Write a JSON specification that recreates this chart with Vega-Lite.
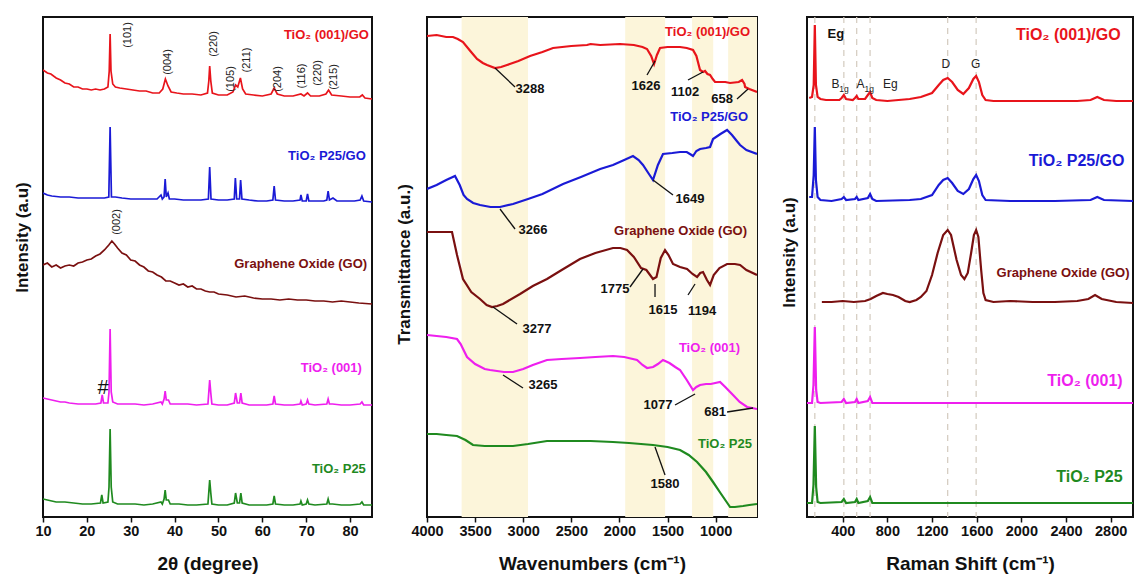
{
"$schema": "https://vega.github.io/schema/vega-lite/v6.json",
"background": "white",
"padding": {"left": 12, "top": 15, "right": 0, "bottom": 0},
"spacing": 21,
"config": {
 "view": {"stroke": "#111", "strokeWidth": 2},
 "font": "Liberation Sans",
 "axis": {"grid": false, "domain": false, "labelFont": "Liberation Sans", "labelFontSize": 14.5, "labelFontWeight": "bold", "labelColor": "#111", "titleFont": "Liberation Sans", "titleFontWeight": "bold", "titleColor": "#111", "tickColor": "#111", "tickWidth": 1.5, "tickSize": 5, "labelPadding": 2, "labelOverlap": false, "labelFlush": false},
 "axisX": {"titleFontSize": 19, "titlePadding": 17, "format": "d"},
 "axisY": {"ticks": false, "labels": false, "titleFontSize": 17}
},
"datasets": {
 "xrd": [
  {"s":"a","x":10,"y":447},{"s":"a","x":11,"y":444},{"s":"a","x":11.8,"y":443},{"s":"a","x":13,"y":439},{"s":"a","x":14,"y":437},{"s":"a","x":15,"y":434},{"s":"a","x":16,"y":433},{"s":"a","x":17,"y":430},{"s":"a","x":18,"y":430},{"s":"a","x":19,"y":428},{"s":"a","x":20,"y":428},{"s":"a","x":21,"y":427},{"s":"a","x":22,"y":428},{"s":"a","x":23,"y":427},{"s":"a","x":24,"y":428},{"s":"a","x":24.8,"y":430},{"s":"a","x":25.1,"y":446},{"s":"a","x":25.3,"y":483},{"s":"a","x":25.5,"y":446},{"s":"a","x":25.9,"y":433},{"s":"a","x":26.5,"y":430},{"s":"a","x":27.5,"y":429},{"s":"a","x":29,"y":428},{"s":"a","x":30.5,"y":427},{"s":"a","x":32,"y":426},{"s":"a","x":33.5,"y":426},{"s":"a","x":35,"y":424},{"s":"a","x":36.5,"y":424},{"s":"a","x":37.3,"y":428},{"s":"a","x":37.9,"y":438},{"s":"a","x":38.5,"y":431},{"s":"a","x":39.2,"y":425},{"s":"a","x":40.5,"y":424},{"s":"a","x":42,"y":423},{"s":"a","x":44,"y":423},{"s":"a","x":46,"y":422},{"s":"a","x":47.5,"y":424},{"s":"a","x":47.8,"y":436},{"s":"a","x":48.0,"y":451},{"s":"a","x":48.25,"y":436},{"s":"a","x":48.6,"y":424},{"s":"a","x":50,"y":422},{"s":"a","x":52,"y":422},{"s":"a","x":53.3,"y":425},{"s":"a","x":53.9,"y":432},{"s":"a","x":54.4,"y":430},{"s":"a","x":55.0,"y":439},{"s":"a","x":55.5,"y":428},{"s":"a","x":56.2,"y":423},{"s":"a","x":58,"y":422},{"s":"a","x":60,"y":421},{"s":"a","x":62,"y":423},{"s":"a","x":62.7,"y":429},{"s":"a","x":63.4,"y":423},{"s":"a","x":65,"y":421},{"s":"a","x":67,"y":421},{"s":"a","x":68.8,"y":423},{"s":"a","x":69.5,"y":421},{"s":"a","x":70.3,"y":424},{"s":"a","x":71,"y":421},{"s":"a","x":73,"y":421},{"s":"a","x":74.5,"y":423},{"s":"a","x":75.1,"y":427},{"s":"a","x":75.8,"y":422},{"s":"a","x":78,"y":421},{"s":"a","x":80,"y":420},{"s":"a","x":82.2,"y":420},{"s":"a","x":82.8,"y":422},{"s":"a","x":83.4,"y":419},{"s":"a","x":85,"y":418},
  {"s":"b","x":10,"y":324},{"s":"b","x":11,"y":322},{"s":"b","x":12,"y":321},{"s":"b","x":14,"y":320},{"s":"b","x":16,"y":320},{"s":"b","x":18,"y":319},{"s":"b","x":20,"y":319},{"s":"b","x":22,"y":319},{"s":"b","x":24,"y":319},{"s":"b","x":25.0,"y":320},{"s":"b","x":25.3,"y":390},{"s":"b","x":25.6,"y":320},{"s":"b","x":26.5,"y":320},{"s":"b","x":28,"y":319},{"s":"b","x":30,"y":318},{"s":"b","x":32,"y":318},{"s":"b","x":34,"y":318},{"s":"b","x":36,"y":318},{"s":"b","x":36.9,"y":322},{"s":"b","x":37.2,"y":318},{"s":"b","x":37.6,"y":320},{"s":"b","x":37.85,"y":338},{"s":"b","x":38.1,"y":320},{"s":"b","x":38.5,"y":324},{"s":"b","x":38.8,"y":318},{"s":"b","x":40,"y":318},{"s":"b","x":42,"y":317},{"s":"b","x":44,"y":317},{"s":"b","x":46,"y":317},{"s":"b","x":47.7,"y":318},{"s":"b","x":48.0,"y":350},{"s":"b","x":48.3,"y":318},{"s":"b","x":50,"y":317},{"s":"b","x":52,"y":317},{"s":"b","x":53.6,"y":318},{"s":"b","x":53.85,"y":339},{"s":"b","x":54.15,"y":318},{"s":"b","x":54.8,"y":318},{"s":"b","x":55.05,"y":337},{"s":"b","x":55.35,"y":318},{"s":"b","x":57,"y":317},{"s":"b","x":59,"y":316},{"s":"b","x":61,"y":316},{"s":"b","x":62.4,"y":317},{"s":"b","x":62.7,"y":331},{"s":"b","x":63.0,"y":317},{"s":"b","x":65,"y":316},{"s":"b","x":67,"y":316},{"s":"b","x":68.6,"y":317},{"s":"b","x":68.8,"y":322},{"s":"b","x":69.1,"y":316},{"s":"b","x":70.0,"y":316},{"s":"b","x":70.3,"y":323},{"s":"b","x":70.6,"y":316},{"s":"b","x":72,"y":316},{"s":"b","x":74,"y":316},{"s":"b","x":74.7,"y":317},{"s":"b","x":75.0,"y":326},{"s":"b","x":75.3,"y":317},{"s":"b","x":76.1,"y":319},{"s":"b","x":77,"y":316},{"s":"b","x":79,"y":316},{"s":"b","x":81,"y":316},{"s":"b","x":82.3,"y":317},{"s":"b","x":82.7,"y":321},{"s":"b","x":83.1,"y":316},{"s":"b","x":85,"y":315},
  {"s":"c","x":10,"y":252},{"s":"c","x":11,"y":254},{"s":"c","x":12,"y":250},{"s":"c","x":13,"y":252},{"s":"c","x":14,"y":249},{"s":"c","x":15,"y":251},{"s":"c","x":16,"y":252},{"s":"c","x":17,"y":251},{"s":"c","x":18,"y":254},{"s":"c","x":19,"y":255},{"s":"c","x":20,"y":257},{"s":"c","x":21,"y":258},{"s":"c","x":22,"y":261},{"s":"c","x":23,"y":263},{"s":"c","x":24,"y":267},{"s":"c","x":25,"y":272},{"s":"c","x":25.7,"y":276},{"s":"c","x":26.3,"y":273},{"s":"c","x":27,"y":269},{"s":"c","x":28,"y":264},{"s":"c","x":29,"y":262},{"s":"c","x":30,"y":257},{"s":"c","x":31,"y":256},{"s":"c","x":32,"y":252},{"s":"c","x":33,"y":250},{"s":"c","x":34,"y":246},{"s":"c","x":35,"y":245},{"s":"c","x":36,"y":242},{"s":"c","x":37,"y":240},{"s":"c","x":38,"y":236},{"s":"c","x":39,"y":236},{"s":"c","x":40,"y":234},{"s":"c","x":41,"y":232},{"s":"c","x":42,"y":233},{"s":"c","x":43,"y":230},{"s":"c","x":44,"y":231},{"s":"c","x":45,"y":228},{"s":"c","x":46,"y":228},{"s":"c","x":47,"y":226},{"s":"c","x":48,"y":225},{"s":"c","x":49,"y":225},{"s":"c","x":50,"y":223},{"s":"c","x":52,"y":222},{"s":"c","x":54,"y":220},{"s":"c","x":56,"y":221},{"s":"c","x":58,"y":219},{"s":"c","x":60,"y":218},{"s":"c","x":62,"y":218},{"s":"c","x":64,"y":217},{"s":"c","x":66,"y":218},{"s":"c","x":68,"y":217},{"s":"c","x":70,"y":217},{"s":"c","x":72,"y":216},{"s":"c","x":74,"y":216},{"s":"c","x":76,"y":215},{"s":"c","x":78,"y":216},{"s":"c","x":80,"y":215},{"s":"c","x":82,"y":214},{"s":"c","x":85,"y":213},
  {"s":"d","x":10,"y":119},{"s":"d","x":11,"y":118},{"s":"d","x":12,"y":117},{"s":"d","x":13,"y":116},{"s":"d","x":14,"y":115},{"s":"d","x":15,"y":115},{"s":"d","x":16,"y":114},{"s":"d","x":18,"y":113},{"s":"d","x":20,"y":113},{"s":"d","x":22,"y":113},{"s":"d","x":23.2,"y":114},{"s":"d","x":23.5,"y":122},{"s":"d","x":23.8,"y":114},{"s":"d","x":24.8,"y":114},{"s":"d","x":25.05,"y":125},{"s":"d","x":25.3,"y":188},{"s":"d","x":25.55,"y":125},{"s":"d","x":25.9,"y":115},{"s":"d","x":27,"y":113},{"s":"d","x":29,"y":113},{"s":"d","x":31,"y":113},{"s":"d","x":33,"y":112},{"s":"d","x":35,"y":113},{"s":"d","x":36.9,"y":115},{"s":"d","x":37.2,"y":113},{"s":"d","x":37.6,"y":118},{"s":"d","x":37.85,"y":126},{"s":"d","x":38.1,"y":117},{"s":"d","x":38.6,"y":117},{"s":"d","x":39,"y":113},{"s":"d","x":41,"y":113},{"s":"d","x":43,"y":113},{"s":"d","x":45,"y":112},{"s":"d","x":47.6,"y":113},{"s":"d","x":47.8,"y":125},{"s":"d","x":48.0,"y":137},{"s":"d","x":48.25,"y":124},{"s":"d","x":48.5,"y":113},{"s":"d","x":50,"y":112},{"s":"d","x":52,"y":112},{"s":"d","x":53.6,"y":114},{"s":"d","x":53.9,"y":124},{"s":"d","x":54.3,"y":114},{"s":"d","x":54.8,"y":114},{"s":"d","x":55.1,"y":124},{"s":"d","x":55.4,"y":114},{"s":"d","x":57,"y":112},{"s":"d","x":59,"y":112},{"s":"d","x":61,"y":112},{"s":"d","x":62.4,"y":113},{"s":"d","x":62.7,"y":121},{"s":"d","x":63.0,"y":113},{"s":"d","x":65,"y":112},{"s":"d","x":67,"y":112},{"s":"d","x":68.6,"y":113},{"s":"d","x":68.8,"y":116},{"s":"d","x":69.1,"y":112},{"s":"d","x":70.0,"y":113},{"s":"d","x":70.3,"y":117},{"s":"d","x":70.6,"y":113},{"s":"d","x":72,"y":112},{"s":"d","x":74.7,"y":113},{"s":"d","x":75.0,"y":118},{"s":"d","x":75.3,"y":113},{"s":"d","x":76,"y":113},{"s":"d","x":78,"y":112},{"s":"d","x":80,"y":112},{"s":"d","x":82.3,"y":113},{"s":"d","x":82.7,"y":115},{"s":"d","x":83.1,"y":112},{"s":"d","x":85,"y":112},
  {"s":"e","x":10,"y":18},{"s":"e","x":11,"y":17},{"s":"e","x":12,"y":16},{"s":"e","x":13,"y":15},{"s":"e","x":15,"y":15},{"s":"e","x":17,"y":14},{"s":"e","x":19,"y":13},{"s":"e","x":21,"y":13},{"s":"e","x":23.1,"y":14},{"s":"e","x":23.4,"y":22},{"s":"e","x":23.7,"y":14},{"s":"e","x":24.8,"y":15},{"s":"e","x":25.05,"y":30},{"s":"e","x":25.3,"y":88},{"s":"e","x":25.55,"y":30},{"s":"e","x":25.9,"y":15},{"s":"e","x":27,"y":13},{"s":"e","x":29,"y":13},{"s":"e","x":31,"y":13},{"s":"e","x":33,"y":12},{"s":"e","x":35,"y":13},{"s":"e","x":36.9,"y":15},{"s":"e","x":37.2,"y":13},{"s":"e","x":37.6,"y":18},{"s":"e","x":37.85,"y":27},{"s":"e","x":38.1,"y":17},{"s":"e","x":38.6,"y":17},{"s":"e","x":39,"y":13},{"s":"e","x":41,"y":13},{"s":"e","x":43,"y":12},{"s":"e","x":45,"y":12},{"s":"e","x":47.6,"y":13},{"s":"e","x":47.8,"y":25},{"s":"e","x":48.0,"y":37},{"s":"e","x":48.25,"y":24},{"s":"e","x":48.5,"y":13},{"s":"e","x":50,"y":12},{"s":"e","x":52,"y":12},{"s":"e","x":53.6,"y":14},{"s":"e","x":53.9,"y":24},{"s":"e","x":54.3,"y":14},{"s":"e","x":54.8,"y":14},{"s":"e","x":55.1,"y":24},{"s":"e","x":55.4,"y":14},{"s":"e","x":57,"y":12},{"s":"e","x":59,"y":12},{"s":"e","x":61,"y":12},{"s":"e","x":62.4,"y":13},{"s":"e","x":62.7,"y":21},{"s":"e","x":63.0,"y":13},{"s":"e","x":65,"y":12},{"s":"e","x":67,"y":12},{"s":"e","x":68.6,"y":13},{"s":"e","x":68.8,"y":16},{"s":"e","x":69.1,"y":12},{"s":"e","x":70.0,"y":13},{"s":"e","x":70.3,"y":17},{"s":"e","x":70.6,"y":13},{"s":"e","x":72,"y":12},{"s":"e","x":74.7,"y":13},{"s":"e","x":75.0,"y":18},{"s":"e","x":75.3,"y":13},{"s":"e","x":76,"y":13},{"s":"e","x":78,"y":12},{"s":"e","x":80,"y":12},{"s":"e","x":82.3,"y":13},{"s":"e","x":82.7,"y":15},{"s":"e","x":83.1,"y":12},{"s":"e","x":85,"y":12}
 ],
 "xrdLab": [
  {"s":"a","x":84.3,"y":482,"t":"TiO₂ (001)/GO"},
  {"s":"b","x":83.6,"y":361,"t":"TiO₂ P25/GO"},
  {"s":"c","x":83.9,"y":253,"t":"Graphene Oxide (GO)"},
  {"s":"d","x":82.7,"y":149,"t":"TiO₂ (001)"},
  {"s":"e","x":83.6,"y":48,"t":"TiO₂ P25"}
 ],
 "hkl": [
  {"x":29.4,"y":482,"t":"(101)"},{"x":38.6,"y":455,"t":"(004)"},{"x":48.9,"y":473,"t":"(220)"},{"x":52.8,"y":438,"t":"(105)"},{"x":56.6,"y":457,"t":"(211)"},{"x":63.5,"y":438,"t":"(204)"},{"x":69.0,"y":441,"t":"(116)"},{"x":72.7,"y":444,"t":"(220)"},{"x":76.3,"y":440,"t":"(215)"},{"x":26.9,"y":295,"t":"(002)"}
 ],
 "ftir": [
  {"s":"a","x":4000,"y":484},{"s":"a","x":3900,"y":485},{"s":"a","x":3800,"y":483},{"s":"a","x":3730,"y":483},{"s":"a","x":3680,"y":481},{"s":"a","x":3626,"y":478},{"s":"a","x":3550,"y":469},{"s":"a","x":3480,"y":461},{"s":"a","x":3420,"y":457},{"s":"a","x":3376,"y":455},{"s":"a","x":3293,"y":452},{"s":"a","x":3230,"y":453},{"s":"a","x":3168,"y":455},{"s":"a","x":3050,"y":459},{"s":"a","x":2929,"y":464},{"s":"a","x":2800,"y":468},{"s":"a","x":2690,"y":472},{"s":"a","x":2500,"y":474},{"s":"a","x":2337,"y":475},{"s":"a","x":2300,"y":476},{"s":"a","x":2200,"y":475},{"s":"a","x":1994,"y":476},{"s":"a","x":1850,"y":475},{"s":"a","x":1760,"y":473},{"s":"a","x":1713,"y":471},{"s":"a","x":1670,"y":464},{"s":"a","x":1640,"y":456},{"s":"a","x":1610,"y":465},{"s":"a","x":1578,"y":472},{"s":"a","x":1500,"y":473},{"s":"a","x":1370,"y":473},{"s":"a","x":1300,"y":472},{"s":"a","x":1235,"y":470},{"s":"a","x":1200,"y":464},{"s":"a","x":1162,"y":450},{"s":"a","x":1130,"y":448},{"s":"a","x":1110,"y":449},{"s":"a","x":1085,"y":446},{"s":"a","x":1058,"y":445},{"s":"a","x":1030,"y":441},{"s":"a","x":1006,"y":438},{"s":"a","x":950,"y":438},{"s":"a","x":900,"y":438},{"s":"a","x":850,"y":437},{"s":"a","x":760,"y":438},{"s":"a","x":725,"y":440},{"s":"a","x":700,"y":436},{"s":"a","x":694,"y":433},{"s":"a","x":650,"y":431},{"s":"a","x":570,"y":428},
  {"s":"b","x":4000,"y":331},{"s":"b","x":3900,"y":335},{"s":"b","x":3800,"y":340},{"s":"b","x":3709,"y":344},{"s":"b","x":3660,"y":335},{"s":"b","x":3620,"y":325},{"s":"b","x":3584,"y":321},{"s":"b","x":3520,"y":317},{"s":"b","x":3449,"y":315},{"s":"b","x":3340,"y":313},{"s":"b","x":3241,"y":313},{"s":"b","x":3106,"y":316},{"s":"b","x":2950,"y":321},{"s":"b","x":2800,"y":326},{"s":"b","x":2586,"y":336},{"s":"b","x":2400,"y":343},{"s":"b","x":2200,"y":351},{"s":"b","x":2067,"y":355},{"s":"b","x":1950,"y":360},{"s":"b","x":1859,"y":364},{"s":"b","x":1800,"y":360},{"s":"b","x":1755,"y":355},{"s":"b","x":1700,"y":347},{"s":"b","x":1651,"y":340},{"s":"b","x":1600,"y":355},{"s":"b","x":1547,"y":366},{"s":"b","x":1450,"y":367},{"s":"b","x":1370,"y":368},{"s":"b","x":1300,"y":368},{"s":"b","x":1250,"y":365},{"s":"b","x":1235,"y":364},{"s":"b","x":1200,"y":369},{"s":"b","x":1162,"y":371},{"s":"b","x":1100,"y":372},{"s":"b","x":1058,"y":373},{"s":"b","x":1027,"y":381},{"s":"b","x":950,"y":386},{"s":"b","x":881,"y":390},{"s":"b","x":830,"y":385},{"s":"b","x":780,"y":379},{"s":"b","x":746,"y":375},{"s":"b","x":680,"y":370},{"s":"b","x":570,"y":366},
  {"s":"c","x":4000,"y":288},{"s":"c","x":3900,"y":288},{"s":"c","x":3800,"y":288},{"s":"c","x":3740,"y":288},{"s":"c","x":3688,"y":265},{"s":"c","x":3626,"y":241},{"s":"c","x":3540,"y":228},{"s":"c","x":3449,"y":221},{"s":"c","x":3380,"y":215},{"s":"c","x":3324,"y":213},{"s":"c","x":3270,"y":214},{"s":"c","x":3210,"y":216},{"s":"c","x":3033,"y":226},{"s":"c","x":2900,"y":234},{"s":"c","x":2753,"y":241},{"s":"c","x":2600,"y":250},{"s":"c","x":2410,"y":261},{"s":"c","x":2250,"y":267},{"s":"c","x":2067,"y":272},{"s":"c","x":1990,"y":272},{"s":"c","x":1921,"y":270},{"s":"c","x":1850,"y":263},{"s":"c","x":1775,"y":252},{"s":"c","x":1720,"y":250},{"s":"c","x":1651,"y":241},{"s":"c","x":1615,"y":243},{"s":"c","x":1570,"y":262},{"s":"c","x":1526,"y":270},{"s":"c","x":1490,"y":265},{"s":"c","x":1443,"y":256},{"s":"c","x":1370,"y":253},{"s":"c","x":1297,"y":251},{"s":"c","x":1240,"y":246},{"s":"c","x":1193,"y":243},{"s":"c","x":1160,"y":247},{"s":"c","x":1131,"y":248},{"s":"c","x":1090,"y":240},{"s":"c","x":1058,"y":235},{"s":"c","x":1020,"y":245},{"s":"c","x":960,"y":252},{"s":"c","x":881,"y":256},{"s":"c","x":800,"y":256},{"s":"c","x":746,"y":255},{"s":"c","x":680,"y":250},{"s":"c","x":570,"y":245},
  {"s":"d","x":4000,"y":185},{"s":"d","x":3900,"y":184},{"s":"d","x":3800,"y":183},{"s":"d","x":3688,"y":181},{"s":"d","x":3650,"y":176},{"s":"d","x":3584,"y":163},{"s":"d","x":3500,"y":156},{"s":"d","x":3400,"y":151},{"s":"d","x":3345,"y":150},{"s":"d","x":3200,"y":148},{"s":"d","x":3106,"y":148},{"s":"d","x":3000,"y":151},{"s":"d","x":2900,"y":155},{"s":"d","x":2753,"y":160},{"s":"d","x":2600,"y":161},{"s":"d","x":2410,"y":162},{"s":"d","x":2250,"y":163},{"s":"d","x":2067,"y":164},{"s":"d","x":1950,"y":163},{"s":"d","x":1817,"y":160},{"s":"d","x":1760,"y":155},{"s":"d","x":1713,"y":152},{"s":"d","x":1650,"y":153},{"s":"d","x":1600,"y":156},{"s":"d","x":1547,"y":160},{"s":"d","x":1480,"y":157},{"s":"d","x":1420,"y":153},{"s":"d","x":1370,"y":150},{"s":"d","x":1300,"y":140},{"s":"d","x":1235,"y":130},{"s":"d","x":1200,"y":133},{"s":"d","x":1162,"y":135},{"s":"d","x":1100,"y":136},{"s":"d","x":1050,"y":136},{"s":"d","x":954,"y":138},{"s":"d","x":900,"y":133},{"s":"d","x":819,"y":125},{"s":"d","x":750,"y":118},{"s":"d","x":673,"y":113},{"s":"d","x":620,"y":112},{"s":"d","x":570,"y":111},
  {"s":"e","x":4000,"y":86},{"s":"e","x":3900,"y":86},{"s":"e","x":3800,"y":85},{"s":"e","x":3688,"y":84},{"s":"e","x":3600,"y":80},{"s":"e","x":3522,"y":75},{"s":"e","x":3400,"y":74},{"s":"e","x":3300,"y":74},{"s":"e","x":3106,"y":74},{"s":"e","x":2950,"y":76},{"s":"e","x":2753,"y":79},{"s":"e","x":2500,"y":79},{"s":"e","x":2300,"y":79},{"s":"e","x":2067,"y":78},{"s":"e","x":1900,"y":77},{"s":"e","x":1651,"y":75},{"s":"e","x":1500,"y":73},{"s":"e","x":1370,"y":70},{"s":"e","x":1280,"y":65},{"s":"e","x":1193,"y":58},{"s":"e","x":1100,"y":48},{"s":"e","x":1027,"y":38},{"s":"e","x":950,"y":27},{"s":"e","x":850,"y":13},{"s":"e","x":800,"y":13},{"s":"e","x":715,"y":14},{"s":"e","x":650,"y":15},{"s":"e","x":570,"y":16}
 ],
 "ftirLab": [
  {"s":"a","x":642,"y":488,"t":"TiO₂ (001)/GO"},
  {"s":"b","x":663,"y":403,"t":"TiO₂ P25/GO"},
  {"s":"c","x":674,"y":289,"t":"Graphene Oxide (GO)"},
  {"s":"d","x":746,"y":172,"t":"TiO₂ (001)"},
  {"s":"e","x":622,"y":76,"t":"TiO₂ P25"}
 ],
 "bands": [{"a":3640,"b":2950},{"a":1940,"b":1525},{"a":1245,"b":1025},{"a":870,"b":570}],
 "annLines": [
  {"x":3293,"y":452,"x2":3085,"y2":433},{"x":1713,"y":445,"x2":1630,"y2":459},{"x":1287,"y":440,"x2":1131,"y2":448},{"x":778,"y":421,"x2":663,"y2":431},
  {"x":3241,"y":311,"x2":3085,"y2":291},{"x":1651,"y":340,"x2":1443,"y2":325},
  {"x":3314,"y":213,"x2":3064,"y2":196},{"x":1890,"y":233,"x2":1755,"y2":251},{"x":1630,"y":236,"x2":1630,"y2":223},{"x":1287,"y":225,"x2":1214,"y2":236},
  {"x":3210,"y":145,"x2":3002,"y2":132},{"x":1422,"y":115,"x2":1214,"y2":126},{"x":881,"y":108,"x2":611,"y2":112},
  {"x":1630,"y":73,"x2":1526,"y2":45}
 ],
 "annText": [
  {"x":2929,"y":431,"t":"3288"},{"x":1723,"y":434,"t":"1626"},{"x":1318,"y":428,"t":"1102"},{"x":933,"y":421,"t":"658"},
  {"x":2898,"y":290,"t":"3266"},{"x":1266,"y":321,"t":"1649"},
  {"x":2857,"y":191,"t":"3277"},{"x":2046,"y":231,"t":"1775"},{"x":1547,"y":210,"t":"1615"},{"x":1141,"y":209,"t":"1194"},
  {"x":2794,"y":135,"t":"3265"},{"x":1599,"y":115,"t":"1077"},{"x":1006,"y":108,"t":"681"},
  {"x":1526,"y":36,"t":"1580"}
 ],
 "raman": [
  {"s":"a","x":100,"y":417},{"s":"a","x":125,"y":418},{"s":"a","x":140,"y":430},{"s":"a","x":150,"y":490},{"s":"a","x":160,"y":430},{"s":"a","x":175,"y":418},{"s":"a","x":200,"y":416},{"s":"a","x":250,"y":415},{"s":"a","x":300,"y":415},{"s":"a","x":370,"y":415},{"s":"a","x":390,"y":417},{"s":"a","x":410,"y":420},{"s":"a","x":430,"y":416},{"s":"a","x":490,"y":415},{"s":"a","x":510,"y":417},{"s":"a","x":525,"y":419},{"s":"a","x":540,"y":416},{"s":"a","x":600,"y":416},{"s":"a","x":625,"y":420},{"s":"a","x":645,"y":423},{"s":"a","x":665,"y":417},{"s":"a","x":700,"y":415},{"s":"a","x":800,"y":414},{"s":"a","x":900,"y":415},{"s":"a","x":1000,"y":416},{"s":"a","x":1100,"y":418},{"s":"a","x":1200,"y":422},{"s":"a","x":1260,"y":430},{"s":"a","x":1300,"y":435},{"s":"a","x":1340,"y":437},{"s":"a","x":1380,"y":433},{"s":"a","x":1430,"y":425},{"s":"a","x":1480,"y":421},{"s":"a","x":1530,"y":427},{"s":"a","x":1570,"y":436},{"s":"a","x":1595,"y":439},{"s":"a","x":1620,"y":433},{"s":"a","x":1650,"y":420},{"s":"a","x":1680,"y":415},{"s":"a","x":1750,"y":414},{"s":"a","x":1900,"y":414},{"s":"a","x":2100,"y":414},{"s":"a","x":2300,"y":414},{"s":"a","x":2500,"y":414},{"s":"a","x":2620,"y":415},{"s":"a","x":2680,"y":418},{"s":"a","x":2740,"y":415},{"s":"a","x":2850,"y":414},{"s":"a","x":3000,"y":414},
  {"s":"b","x":100,"y":318},{"s":"b","x":125,"y":318},{"s":"b","x":140,"y":340},{"s":"b","x":150,"y":388},{"s":"b","x":160,"y":335},{"s":"b","x":175,"y":318},{"s":"b","x":200,"y":315},{"s":"b","x":300,"y":314},{"s":"b","x":390,"y":316},{"s":"b","x":410,"y":318},{"s":"b","x":430,"y":315},{"s":"b","x":510,"y":316},{"s":"b","x":525,"y":318},{"s":"b","x":540,"y":315},{"s":"b","x":625,"y":317},{"s":"b","x":645,"y":321},{"s":"b","x":665,"y":316},{"s":"b","x":700,"y":314},{"s":"b","x":1000,"y":315},{"s":"b","x":1100,"y":316},{"s":"b","x":1200,"y":320},{"s":"b","x":1260,"y":330},{"s":"b","x":1300,"y":335},{"s":"b","x":1340,"y":337},{"s":"b","x":1380,"y":332},{"s":"b","x":1430,"y":324},{"s":"b","x":1480,"y":321},{"s":"b","x":1530,"y":326},{"s":"b","x":1570,"y":336},{"s":"b","x":1595,"y":340},{"s":"b","x":1620,"y":334},{"s":"b","x":1650,"y":320},{"s":"b","x":1680,"y":315},{"s":"b","x":1900,"y":314},{"s":"b","x":2300,"y":314},{"s":"b","x":2620,"y":315},{"s":"b","x":2680,"y":318},{"s":"b","x":2740,"y":315},{"s":"b","x":3000,"y":314},
  {"s":"c","x":213,"y":213},{"s":"c","x":300,"y":213},{"s":"c","x":400,"y":214},{"s":"c","x":500,"y":213},{"s":"c","x":600,"y":214},{"s":"c","x":650,"y":216},{"s":"c","x":700,"y":219},{"s":"c","x":760,"y":222},{"s":"c","x":800,"y":221},{"s":"c","x":850,"y":220},{"s":"c","x":900,"y":218},{"s":"c","x":960,"y":214},{"s":"c","x":1000,"y":213},{"s":"c","x":1060,"y":215},{"s":"c","x":1100,"y":218},{"s":"c","x":1150,"y":224},{"s":"c","x":1200,"y":240},{"s":"c","x":1250,"y":262},{"s":"c","x":1300,"y":280},{"s":"c","x":1340,"y":285},{"s":"c","x":1370,"y":280},{"s":"c","x":1420,"y":255},{"s":"c","x":1460,"y":240},{"s":"c","x":1490,"y":236},{"s":"c","x":1520,"y":242},{"s":"c","x":1550,"y":262},{"s":"c","x":1575,"y":280},{"s":"c","x":1595,"y":285},{"s":"c","x":1615,"y":278},{"s":"c","x":1640,"y":245},{"s":"c","x":1660,"y":222},{"s":"c","x":1680,"y":215},{"s":"c","x":1750,"y":213},{"s":"c","x":1900,"y":214},{"s":"c","x":2100,"y":213},{"s":"c","x":2300,"y":213},{"s":"c","x":2500,"y":214},{"s":"c","x":2600,"y":216},{"s":"c","x":2660,"y":220},{"s":"c","x":2720,"y":216},{"s":"c","x":2850,"y":213},{"s":"c","x":3000,"y":212},
  {"s":"d","x":80,"y":112},{"s":"d","x":125,"y":112},{"s":"d","x":138,"y":130},{"s":"d","x":150,"y":188},{"s":"d","x":162,"y":125},{"s":"d","x":175,"y":113},{"s":"d","x":200,"y":112},{"s":"d","x":390,"y":113},{"s":"d","x":410,"y":116},{"s":"d","x":430,"y":112},{"s":"d","x":510,"y":113},{"s":"d","x":525,"y":116},{"s":"d","x":540,"y":112},{"s":"d","x":625,"y":114},{"s":"d","x":645,"y":118},{"s":"d","x":665,"y":112},{"s":"d","x":700,"y":112},{"s":"d","x":3000,"y":112},
  {"s":"e","x":80,"y":12},{"s":"e","x":125,"y":12},{"s":"e","x":138,"y":30},{"s":"e","x":150,"y":89},{"s":"e","x":162,"y":28},{"s":"e","x":175,"y":13},{"s":"e","x":200,"y":12},{"s":"e","x":390,"y":13},{"s":"e","x":410,"y":16},{"s":"e","x":430,"y":12},{"s":"e","x":510,"y":13},{"s":"e","x":525,"y":16},{"s":"e","x":540,"y":12},{"s":"e","x":625,"y":14},{"s":"e","x":645,"y":18},{"s":"e","x":665,"y":12},{"s":"e","x":700,"y":12},{"s":"e","x":3000,"y":12}
 ],
 "ramanLab": [
  {"s":"a","x":2889,"y":480,"t":"TiO₂ (001)/GO"},
  {"s":"b","x":2924,"y":354,"t":"TiO₂ P25/GO"},
  {"s":"d","x":2907,"y":134,"t":"TiO₂ (001)"},
  {"s":"e","x":2907,"y":38,"t":"TiO₂ P25"}
 ],
 "modes": [{"x":150},{"x":410},{"x":525},{"x":645},{"x":1340},{"x":1595}]
},
"hconcat": [
 {
  "width": 329, "height": 500,
  "layer": [
   {"data": {"name": "xrd"}, "mark": {"type": "line", "strokeWidth": 1.7, "clip": true},
    "encoding": {
     "x": {"field": "x", "type": "quantitative", "scale": {"domain": [10, 85], "nice": false, "zero": false}, "axis": {"title": "2θ (degree)", "values": [10,20,30,40,50,60,70,80]}},
     "y": {"field": "y", "type": "quantitative", "scale": {"domain": [0, 500], "nice": false, "zero": false}, "axis": {"title": "Intensity (a.u)", "titleY": 220, "titlePadding": 12}},
     "color": {"field": "s", "type": "nominal", "scale": {"domain": ["a","b","c","d","e"], "range": ["#e8141b","#1a1ad6","#7a1010","#ee1fee","#1f8a1f"]}, "legend": null}
    }},
   {"data": {"name": "xrdLab"}, "mark": {"type": "text", "align": "right", "baseline": "middle", "fontSize": 13, "fontWeight": "bold"},
    "encoding": {"x": {"field": "x", "type": "quantitative"}, "y": {"field": "y", "type": "quantitative"}, "text": {"field": "t"}, "color": {"field": "s", "type": "nominal", "legend": null}}},
   {"data": {"name": "hkl"}, "mark": {"type": "text", "angle": 270, "align": "center", "baseline": "middle", "fontSize": 11, "color": "#222"},
    "encoding": {"x": {"field": "x", "type": "quantitative"}, "y": {"field": "y", "type": "quantitative"}, "text": {"field": "t"}}},
   {"data": {"values": [{"x": 23.7, "y": 129, "t": "#"}]}, "mark": {"type": "text", "align": "center", "baseline": "middle", "fontSize": 20, "color": "#111"},
    "encoding": {"x": {"field": "x", "type": "quantitative"}, "y": {"field": "y", "type": "quantitative"}, "text": {"field": "t"}}}
  ]
 },
 {
  "width": 330, "height": 500,
  "layer": [
   {"data": {"name": "bands"}, "mark": {"type": "rect", "color": "#fcf5da"},
    "encoding": {"x": {"field": "a", "type": "quantitative", "scale": {"domain": [4000, 570], "nice": false, "zero": false}, "axis": {"title": "Wavenumbers (cm⁻¹)", "values": [4000,3500,3000,2500,2000,1500,1000]}}, "x2": {"field": "b"}}},
   {"data": {"name": "ftir"}, "mark": {"type": "line", "strokeWidth": 2.2, "clip": true},
    "encoding": {
     "x": {"field": "x", "type": "quantitative", "axis": {"title": "Wavenumbers (cm⁻¹)", "values": [4000,3500,3000,2500,2000,1500,1000]}},
     "y": {"field": "y", "type": "quantitative", "scale": {"domain": [3, 503], "nice": false, "zero": false}, "axis": {"title": "Transmittance (a.u.)", "titleY": 247, "titlePadding": 14}},
     "color": {"field": "s", "type": "nominal", "scale": {"domain": ["a","b","c","d","e"], "range": ["#e8141b","#1a1ad6","#7a1010","#ee1fee","#1f8a1f"]}, "legend": null}
    }},
   {"data": {"name": "annLines"}, "mark": {"type": "rule", "color": "#111", "strokeWidth": 1.3},
    "encoding": {"x": {"field": "x", "type": "quantitative"}, "y": {"field": "y", "type": "quantitative"}, "x2": {"field": "x2"}, "y2": {"field": "y2"}}},
   {"data": {"name": "annText"}, "mark": {"type": "text", "align": "center", "baseline": "middle", "fontSize": 13, "fontWeight": "bold", "color": "#111"},
    "encoding": {"x": {"field": "x", "type": "quantitative"}, "y": {"field": "y", "type": "quantitative"}, "text": {"field": "t"}}},
   {"data": {"name": "ftirLab"}, "mark": {"type": "text", "align": "right", "baseline": "middle", "fontSize": 13, "fontWeight": "bold"},
    "encoding": {"x": {"field": "x", "type": "quantitative"}, "y": {"field": "y", "type": "quantitative"}, "text": {"field": "t"}, "color": {"field": "s", "type": "nominal", "legend": null}}}
  ]
 },
 {
  "width": 326, "height": 500,
  "layer": [
   {"data": {"name": "modes"}, "mark": {"type": "rule", "color": "#d6cec3", "strokeWidth": 1.3, "strokeDash": [6, 5]},
    "encoding": {"x": {"field": "x", "type": "quantitative", "scale": {"domain": [80, 3000], "nice": false, "zero": false}, "axis": {"title": "Raman Shift (cm⁻¹)", "values": [400,800,1200,1600,2000,2400,2800]}}}},
   {"data": {"name": "raman"}, "mark": {"type": "line", "strokeWidth": 2.2, "clip": true},
    "encoding": {
     "x": {"field": "x", "type": "quantitative", "axis": {"title": "Raman Shift (cm⁻¹)", "values": [400,800,1200,1600,2000,2400,2800]}},
     "y": {"field": "y", "type": "quantitative", "scale": {"domain": [-2, 498], "nice": false, "zero": false}, "axis": {"title": "Intensity (a.u)", "titleY": 235, "titlePadding": 9}},
     "color": {"field": "s", "type": "nominal", "scale": {"domain": ["a","b","c","d","e"], "range": ["#e8141b","#1a1ad6","#7a1010","#ee1fee","#1f8a1f"]}, "legend": null}
    }},
   {"data": {"name": "ramanLab"}, "mark": {"type": "text", "align": "right", "baseline": "middle", "fontWeight": "bold", "fontSize": 16},
    "encoding": {"x": {"field": "x", "type": "quantitative"}, "y": {"field": "y", "type": "quantitative"}, "text": {"field": "t"}, "color": {"field": "s", "type": "nominal", "legend": null}}},
   {"data": {"values": [{"s": "c", "x": 2969, "y": 242, "t": "Graphene Oxide (GO)"}]}, "mark": {"type": "text", "align": "right", "baseline": "middle", "fontWeight": "bold", "fontSize": 13},
    "encoding": {"x": {"field": "x", "type": "quantitative"}, "y": {"field": "y", "type": "quantitative"}, "text": {"field": "t"}, "color": {"field": "s", "type": "nominal", "legend": null}}},
   {"data": {"values": [{"x": 338, "y": 481, "t": "Eg"}]}, "mark": {"type": "text", "align": "center", "baseline": "middle", "fontSize": 13, "fontWeight": "bold", "color": "#111"},
    "encoding": {"x": {"field": "x", "type": "quantitative"}, "y": {"field": "y", "type": "quantitative"}, "text": {"field": "t"}}},
   {"data": {"values": [{"x": 335, "y": 431, "t": "B"}, {"x": 560, "y": 431, "t": "A"}, {"x": 827, "y": 431, "t": "Eg"}, {"x": 1324, "y": 451, "t": "D"}, {"x": 1591, "y": 451, "t": "G"}]}, "mark": {"type": "text", "align": "center", "baseline": "middle", "fontSize": 12, "color": "#222"},
    "encoding": {"x": {"field": "x", "type": "quantitative"}, "y": {"field": "y", "type": "quantitative"}, "text": {"field": "t"}}},
   {"data": {"values": [{"x": 412, "y": 426, "t": "1g"}, {"x": 637, "y": 426, "t": "1g"}]}, "mark": {"type": "text", "align": "center", "baseline": "middle", "fontSize": 8.5, "color": "#222"},
    "encoding": {"x": {"field": "x", "type": "quantitative"}, "y": {"field": "y", "type": "quantitative"}, "text": {"field": "t"}}}
  ]
 }
]
}
